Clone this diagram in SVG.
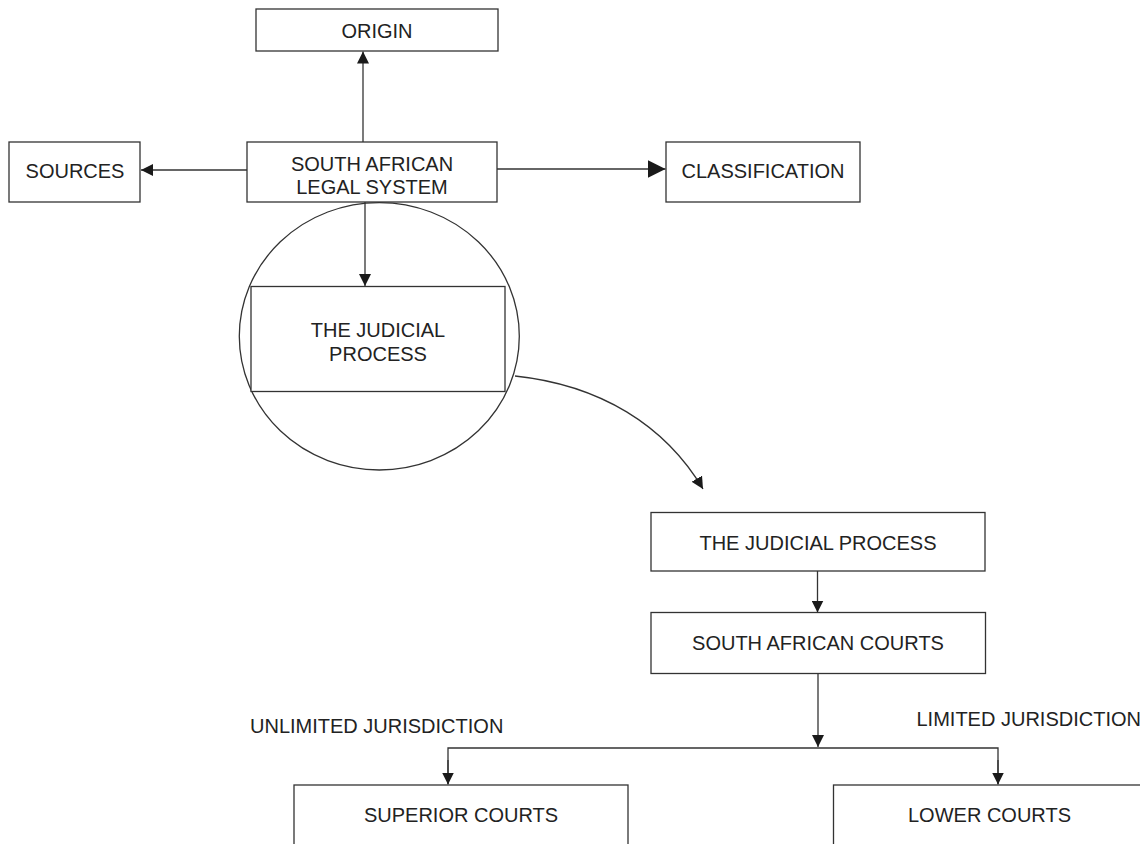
<svg xmlns="http://www.w3.org/2000/svg" width="1140" height="844" viewBox="0 0 1140 844">
  <style>
    .box { fill: #ffffff; stroke: #333333; stroke-width: 1.3; }
    .lbl { font-family: "Liberation Sans", Arial, sans-serif; font-size: 20px; fill: #222222; text-anchor: middle; }
    .free { font-family: "Liberation Sans", Arial, sans-serif; font-size: 20px; fill: #222222; }
    .wire { fill: none; stroke: #333333; stroke-width: 1.3; }
  </style>
  <defs>
    <marker id="arrow" markerUnits="userSpaceOnUse" markerWidth="14" markerHeight="12" refX="12" refY="6" orient="auto">
      <path d="M0,0 L12,6 L0,12 Z" fill="#1a1a1a"/>
    </marker>
    <marker id="arrow-big" markerUnits="userSpaceOnUse" markerWidth="20" markerHeight="18" refX="18" refY="9" orient="auto">
      <path d="M0,0 L18,9 L0,18 Z" fill="#1a1a1a"/>
    </marker>
  </defs>
  <rect width="1140" height="844" fill="#ffffff"/>

  <!-- connectors -->
  <g id="connectors">
    <line class="wire" x1="363" y1="142" x2="363" y2="51.5" marker-end="url(#arrow)"/>
    <line class="wire" x1="247" y1="170" x2="141" y2="170" marker-end="url(#arrow)"/>
    <line class="wire" x1="497" y1="169" x2="665.5" y2="169" marker-end="url(#arrow-big)"/>
    <line class="wire" x1="365" y1="202" x2="365" y2="286" marker-end="url(#arrow)"/>
    <path class="wire" d="M515,376 C600,385 665,425 703,489" marker-end="url(#arrow)"/>
    <line class="wire" x1="817.5" y1="571" x2="817.5" y2="612.5" marker-end="url(#arrow)"/>
    <line class="wire" x1="818" y1="673.5" x2="818" y2="747" marker-end="url(#arrow)"/>
    <polyline class="wire" points="448,784 448,748 998,748 998,784"/>
    <line class="wire" x1="448" y1="760" x2="448" y2="784.5" marker-end="url(#arrow)"/>
    <line class="wire" x1="998" y1="760" x2="998" y2="784.5" marker-end="url(#arrow)"/>
  </g>

  <g id="origin">
    <rect class="box" x="256" y="9" width="242" height="42"/>
    <text class="lbl" x="377" y="38">ORIGIN</text>
  </g>

  <g id="sources">
    <rect class="box" x="9" y="142" width="131" height="60"/>
    <text class="lbl" x="75" y="178">SOURCES</text>
  </g>

  <g id="sa-legal-system">
    <rect class="box" x="247" y="142" width="250" height="60"/>
    <text class="lbl" x="372" y="171">SOUTH AFRICAN</text>
    <text class="lbl" x="372" y="193.5">LEGAL SYSTEM</text>
  </g>

  <g id="classification">
    <rect class="box" x="666" y="142" width="194" height="60"/>
    <text class="lbl" x="763" y="178">CLASSIFICATION</text>
  </g>

  <g id="judicial-process-focus">
    <ellipse class="wire" cx="379.3" cy="336.3" rx="140" ry="133.7"/>
    <rect class="box" x="251" y="286.5" width="254" height="105"/>
    <text class="lbl" x="378" y="337">THE JUDICIAL</text>
    <text class="lbl" x="378" y="360.5">PROCESS</text>
  </g>

  <g id="judicial-process">
    <rect class="box" x="651" y="512.5" width="334" height="58.5"/>
    <text class="lbl" x="818" y="550">THE JUDICIAL PROCESS</text>
  </g>

  <g id="sa-courts">
    <rect class="box" x="651" y="612.5" width="334.5" height="61"/>
    <text class="lbl" x="818" y="650">SOUTH AFRICAN COURTS</text>
  </g>

  <g id="jurisdiction-labels">
    <text class="free" x="250" y="733">UNLIMITED JURISDICTION</text>
    <text class="free" x="916.5" y="725.5">LIMITED JURISDICTION</text>
  </g>

  <g id="superior-courts">
    <rect class="box" x="294" y="785" width="334" height="80"/>
    <text class="lbl" x="461" y="821.5">SUPERIOR COURTS</text>
  </g>

  <g id="lower-courts">
    <rect class="box" x="833.5" y="785" width="330" height="80"/>
    <text class="lbl" x="989.5" y="821.5">LOWER COURTS</text>
  </g>
</svg>
